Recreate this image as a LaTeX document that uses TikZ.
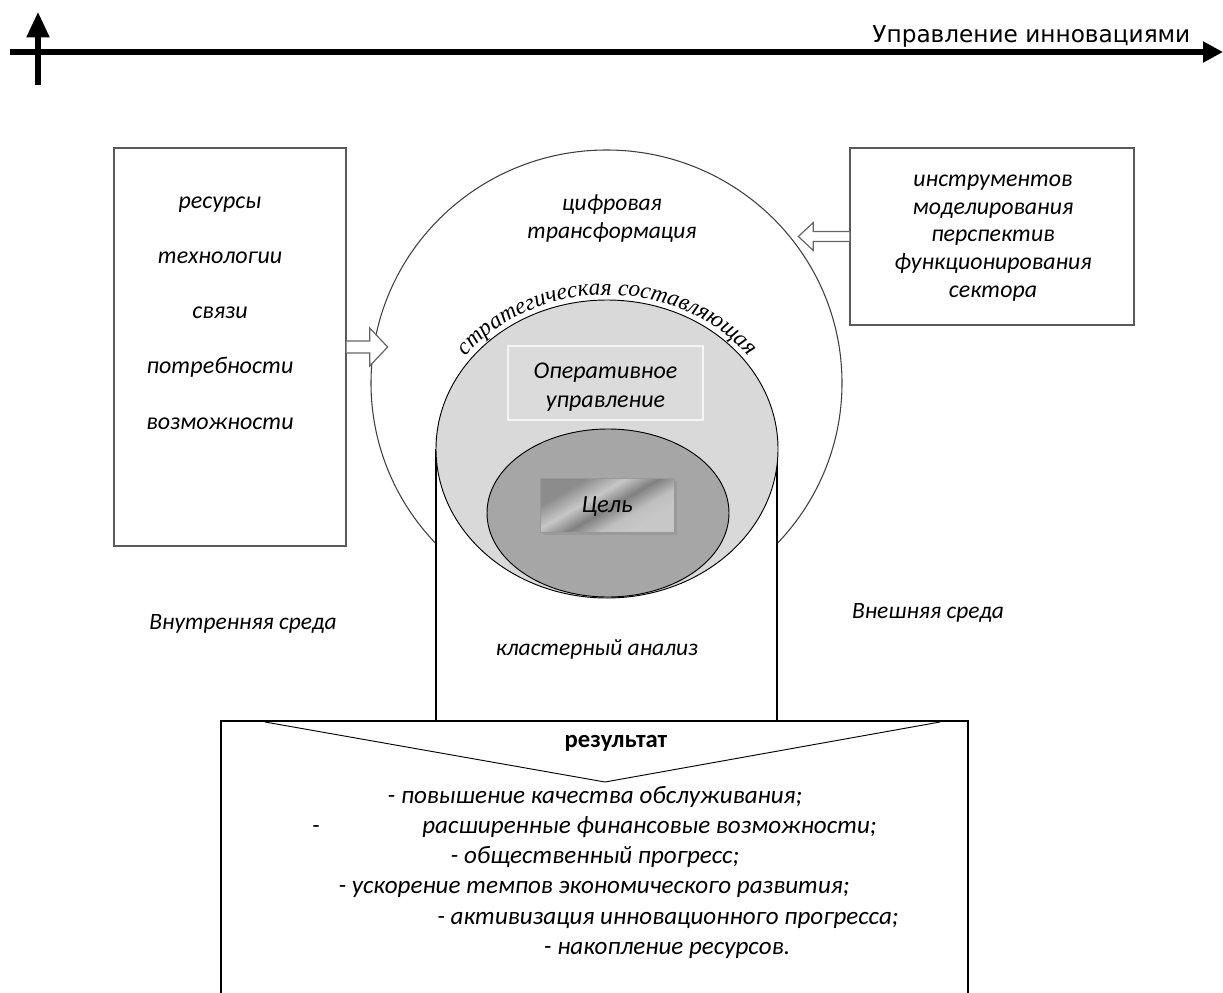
\documentclass[tikz,border=0pt]{standalone}
\usepackage{fontspec}
\setmainfont{Carlito}
\newfontfamily\axisfont{DejaVu Sans}
\newfontfamily\arcfont{Liberation Serif}[UprightFont=* Italic]
\usetikzlibrary{arrows.meta,fit,calc,shadows,decorations.text}
\pgfdeclarehorizontalshading{chrome}{100bp}{color(0bp)=(black!45); color(30bp)=(black!45);
  color(42bp)=(black!22); color(52bp)=(black!50); color(62bp)=(black!25); color(70bp)=(black!22);
  color(100bp)=(black!22)}

\begin{document}
\begin{tikzpicture}[x=0.75pt,y=0.75pt,
  box/.style={draw=black!65,line width=1pt,inner sep=0pt},
  lbl/.style={font=\itshape\fontsize{17.6}{21}\selectfont,align=center},
  blockarr/.style={draw=black!60,fill=white,line width=0.9pt}]
\useasboundingbox (0,0) rectangle (1223,-992);
% axes
\draw[-{Triangle[length=15pt,width=15pt]},line width=3.8pt] (10,-52) -- (1223,-52);
\draw[-{Triangle[length=19pt,width=16.5pt]},line width=3.8pt] (38,-85) -- (38,-12);
\node[font=\axisfont\fontsize{17.4}{20}\selectfont,anchor=base east] (axis) at (1195,-42) {Управление инновациями};

% big circle
\draw[black!75,line width=0.8pt,fill=white] (606.5,-383) ellipse [x radius=235.5,y radius=233];

% side boxes
\node[box,fit={(114,-148) (346,-546)}] (lbox) {};
\foreach \w [count=\i] in {ресурсы,технологии,связи,потребности,возможности}
  \node[lbl,font=\itshape\fontsize{18}{22}\selectfont,anchor=mid] (lw\i) at (220,{-205-55.25*(\i-1)}) {\w};
\node[box,fit={(850,-148) (1134,-325)}] (rbox) {};
\node[lbl,font=\itshape\fontsize{17.9}{20.8}\selectfont] (rtext) at (993,-238)
  {инструментов\\моделирования\\перспектив\\функционирования\\сектора};

% hollow arrows
\draw[blockarr] (lbox.east) ++(0,6) -- ++(23,0) -- ++(0,13) -- ++(18,-19) -- ++(-18,-19) -- ++(0,13) -- ++(-23,0);
\draw[blockarr] (rbox.west) ++(0,5) -- ++(-36,0) -- ++(0,9) -- ++(-15,-14) -- ++(15,-14) -- ++(0,9) -- ++(36,0);

% column under the ellipses
\fill[white] (436,-449) rectangle (777,-721);
\draw[line width=0.8pt] (436,-449) -- (436,-721) (777,-449) -- (777,-721);

% strategic and goal ellipses
\filldraw[fill=black!15,draw=black,line width=0.7pt] (607,-449) ellipse [x radius=171,y radius=149];
\node[fit={(508,-346) (703,-420)},inner sep=0pt,fill=black!14,draw=white!70!black!14,line width=1pt] (oper) {};
\node[lbl,font=\itshape\fontsize{18}{22}\selectfont] (opertext) at ([yshift=-3]oper.center) {Оперативное\\управление};
\filldraw[fill=black!35,draw=black,line width=0.7pt] (608,-513) ellipse [x radius=121,y radius=84];
\node[fit={(540,-478) (674,-532)},inner sep=0pt,draw=black!40,shading=chrome,shading angle=-60,
  drop shadow={shadow xshift=2pt,shadow yshift=-2pt,opacity=.3}] (goal) {};
\node[lbl,font=\itshape\fontsize{18.5}{22}\selectfont,anchor=mid] (goaltext) at ([yshift=-3]goal.center) {Цель};
\path[decorate,decoration={text along path,text align=center,
  text={|\arcfont\fontsize{17.5}{20}\selectfont|стратегическая составляющая}}]
  ($(607,-449)+(150:177 and 154)$) arc[start angle=150,end angle=30,x radius=177,y radius=154];

% labels
\node[lbl] (cifra) at (612,-219) {цифровая\\трансформация};
\node[lbl,anchor=mid] (inner) at (243,-626) {Внутренняя среда};
\node[lbl,anchor=mid] (outer) at (928,-615) {Внешняя среда};
\node[lbl,anchor=mid] (cluster) at (597,-652) {кластерный анализ};

% result
\node[draw,line width=0.8pt,fit={(221,-721) (968,-1010)},inner sep=0pt] (res) {};
\draw[line width=0.7pt] (265,-722) -- (605,-782) -- (940,-722);
\node[font=\bfseries\fontsize{18.5}{20}\selectfont,anchor=mid] (restitle) at (616,-744) {результат};
\foreach \cx/\cy/\t [count=\i] in {595/800/{- повышение качества обслуживания;},
  649.5/830/{расширенные финансовые возможности;},
  595/860/{- общественный прогресс;},
  594/890/{- ускорение темпов экономического развития;},
  668/921/{- активизация инновационного прогресса;},
  667/951/{- накопление ресурсов.}}
  \node[lbl,font=\itshape\fontsize{18.8}{22}\selectfont,anchor=mid] (item\i) at (\cx,-\cy) {\t};
\node[lbl,font=\itshape\fontsize{18.8}{22}\selectfont,anchor=mid] (dash) at (316,-830) {-};
\end{tikzpicture}
\end{document}
